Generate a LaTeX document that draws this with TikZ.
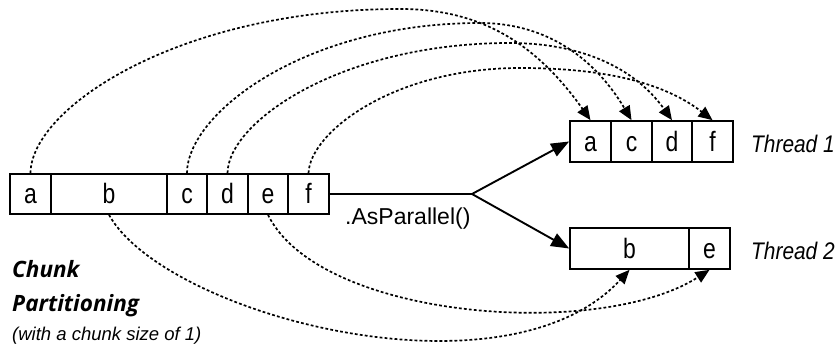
\documentclass[tikz,border=0pt]{standalone}
\usepackage{fontspec}
\setmainfont{Liberation Sans}
\newfontfamily\cellfont[FakeStretch=0.82]{Liberation Sans}
\newfontfamily\thrfont[FakeStretch=0.87]{Liberation Sans}
\newfontfamily\parfont[FakeStretch=1.0]{Liberation Sans}
\newfontfamily\chunkfont{Open Sans}
\usetikzlibrary{arrows.meta}
\begin{document}
\begin{tikzpicture}[x=1pt,y=-1pt,
  cell/.style={draw, line width=1.7pt, inner sep=0pt, minimum height=40pt,
    text height=19pt, text depth=0pt, font=\cellfont\fontsize{28}{28}\selectfont},
  tcell/.style={cell, minimum height=41pt},
  solidarr/.style={line width=1.9pt, -{Triangle[length=18pt,width=14pt]}},
  dotarr/.style={line width=1.7pt, dash pattern=on 2.8pt off 2.2pt,
    -{Triangle[length=14pt,width=12pt]}},
  lbl/.style={inner sep=0pt, anchor=base west}]
\useasboundingbox[fill=white] (0,0) rectangle (839,353);

% source array
\node[cell, minimum width=41pt]  (La) at (30.5,194) {a};
\node[cell, minimum width=116pt] (Lb) at (109,194) {b};
\node[cell, minimum width=40pt]  (Lc) at (187,194) {c};
\node[cell, minimum width=41pt]  (Ld) at (227.5,194) {d};
\node[cell, minimum width=40pt]  (Le) at (268,194) {e};
\node[cell, minimum width=41pt]  (Lf) at (308.5,194) {f};

% thread 1
\node[tcell, minimum width=41pt] (T1a) at (590.5,141.5) {a};
\node[tcell, minimum width=41pt] (T1c) at (631.5,141.5) {c};
\node[tcell, minimum width=40pt] (T1d) at (672,141.5) {d};
\node[tcell, minimum width=41pt] (T1f) at (712.5,141.5) {f};

% thread 2
\node[tcell, minimum width=119pt] (T2b) at (629.5,248.5) {b};
\node[tcell, minimum width=41pt]  (T2e) at (709.5,248.5) {e};

% labels
\node[lbl, font=\thrfont\itshape\fontsize{24}{24}\selectfont] (th1) at (751,152) {Thread 1};
\node[lbl, font=\thrfont\itshape\fontsize{24}{24}\selectfont] (th2) at (751,259) {Thread 2};
\node[lbl, font=\parfont\fontsize{23}{23}\selectfont] (asp) at (345,224.5) {.AsParallel()};
\node[lbl, font=\chunkfont\bfseries\itshape\fontsize{22.5}{22.5}\selectfont] (ch1) at (12,277) {Chunk};
\node[lbl, font=\chunkfont\bfseries\itshape\fontsize{22.5}{22.5}\selectfont] (ch2) at (12,311) {Partitioning};
\node[lbl, font=\itshape\fontsize{18.5}{18.5}\selectfont] (ch3) at (12,340) {(with a chunk size of 1)};

% solid connectors
\coordinate (br) at (472,194);
\draw[line width=1.9pt] (Lf.east) -- (br);
\draw[solidarr] (br) -- (T1a.west);
\draw[solidarr] (br) -- (T2b.west);

% top dotted curves
\coordinate (pa) at (400,9);
\coordinate (pc) at (480,23);
\coordinate (pd) at (510,43);
\coordinate (pf) at (520,68);
\draw[dotarr] (La.north) .. controls (31,108) and (179,9) .. (pa)
  .. controls (476,9) and (533,39) .. (T1a.north);
\draw[dotarr] (Lc.north) .. controls (187,114) and (304,23) .. (pc)
  .. controls (540,23) and (591,52) .. (T1c.north);
\draw[dotarr] (Ld.north) .. controls (228,122) and (341,43) .. (pd)
  .. controls (575,43) and (632,64) .. (T1d.north);
\draw[dotarr] (Lf.north) .. controls (310,132) and (394,68) .. (pf)
  .. controls (590,68) and (658,78) .. (T1f.north);

% bottom dotted curves
\draw[dotarr] (Lb.south) .. controls (165,315) and (505,405) .. (T2b.south);
\draw[dotarr] (Le.south) .. controls (320,320) and (600,340) .. (T2e.south);
\end{tikzpicture}
\end{document}
